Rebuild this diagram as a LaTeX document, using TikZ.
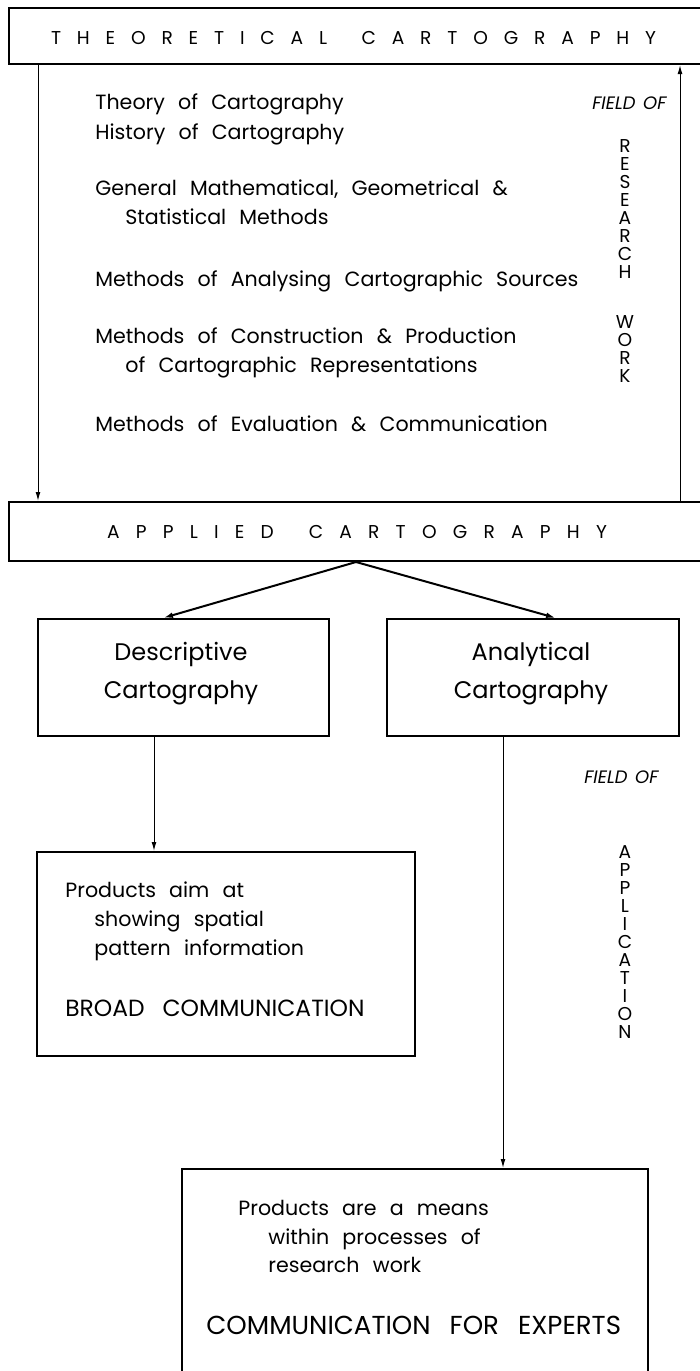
\documentclass[tikz,border=0pt]{standalone}
\usepackage{fontspec}
\usetikzlibrary{arrows.meta}
\setmainfont{Poppins}
\newfontfamily\slfont{Poppins}[FakeSlant=0.18]
% letter-spaced heading of a fixed width
\newcommand\spread[2]{\makebox[#1][s]{#2}}
% font set-ups with wide word spaces
\newcommand\bodyfont{\fontsize{10.3}{12}\selectfont\spaceskip=6.6pt\relax}
\newcommand\broadfont{\fontsize{11.7}{13}\selectfont\spaceskip=9pt\relax}
\newcommand\expertfont{\fontsize{13}{15}\selectfont\spaceskip=9.5pt\relax}
\newcommand\fieldfont{\slfont\fontsize{9}{10}\selectfont\spaceskip=3.8pt\relax}
\begin{document}
\begin{tikzpicture}[x=0.5pt,y=-0.5pt,
  box/.style={draw,line width=1pt,inner sep=0,minimum width=#1},
  txt/.style={inner sep=0,anchor=base west,font=\bodyfont},
  big/.style={inner sep=0,anchor=base,font=\fontsize{12}{14}\selectfont},
  broadcaps/.style={inner sep=0,anchor=base west,font=\broadfont},
  expertcaps/.style={inner sep=0,anchor=base west,font=\expertfont},
  head/.style={inner sep=0,anchor=base,font=\fontsize{9.3}{11}\selectfont},
  vert/.style={inner sep=0,anchor=north,align=center,font=\fontsize{9.3}{9}\selectfont},
  field/.style={inner sep=0,anchor=base west,font=\fieldfont},
  conn/.style={line width=0.5pt,-{Latex[length=4.5pt,width=2.4pt]}},
  fork/.style={line width=1pt,-{Latex[length=5pt,width=2.8pt]}}]
\useasboundingbox (0,0) rectangle (700,1371);

% frames
\node[box=347pt,minimum height=28pt] (theo) at (356,36) {};
\node[box=347pt,minimum height=29.5pt] (appl) at (356,531.5) {};
\node[box=145.5pt,minimum height=58.5pt] (desc) at (183.5,677.5) {};
\node[box=146pt,minimum height=58.5pt] (anal) at (533,677.5) {};
\node[box=189pt,minimum height=102pt] (broad) at (226,954) {};
\node[box=233pt,minimum height=115.5pt] (expert) at (415,1284.5) {};

% headings
\node[head] (theoT) at (353.5,44.5) {\spread{302.5pt}{T H E O R E T I C A L\hspace{1em} C A R T O G R A P H Y}};
\node[head] (applT) at (357,538.5) {\spread{250pt}{A P P L I E D\hspace{1em} C A R T O G R A P H Y}};

% field of research work
\node[txt] (t1) at (95,109) {Theory of Cartography};
\node[txt] (t2) at (95,139) {History of Cartography};
\node[txt] (t3) at (95,195) {General Mathematical, Geometrical \&};
\node[txt] (t4) at (125,224) {Statistical Methods};
\node[txt] (t5) at (95,286) {Methods of Analysing Cartographic Sources};
\node[txt] (t6) at (95,343) {Methods of Construction \& Production};
\node[txt] (t7) at (125,372) {of Cartographic Representations};
\node[txt] (t8) at (95,431) {Methods of Evaluation \& Communication};
\node[field] (f1) at (591,109) {FIELD OF};
\node[vert] (research) at (625,139) {R\\E\\S\\E\\A\\R\\C\\H};
\node[vert] (work) at (625,315) {W\\O\\R\\K};

% branches
\node[big] (d1) at (181,660) {Descriptive};
\node[big] (d2) at (181,698) {Cartography};
\node[big] (a1) at (531,660) {Analytical};
\node[big] (a2) at (531,698) {Cartography};

\node[txt] (b1) at (65,897) {Products aim at};
\node[txt] (b2) at (94,926) {showing spatial};
\node[txt] (b3) at (94,955) {pattern information};
\node[broadcaps] (b4) at (65,1016) {BROAD COMMUNICATION};

\node[txt] (e1) at (238,1215) {Products are a means};
\node[txt] (e2) at (268,1244) {within processes of};
\node[txt] (e3) at (268,1272) {research work};
\node[expertcaps] (e4) at (206,1334) {COMMUNICATION FOR EXPERTS};

\node[field] (f2) at (583,783) {FIELD OF};
\node[vert] (application) at (625,845) {A\\P\\P\\L\\I\\C\\A\\T\\I\\O\\N};

% connectors
\coordinate (lx) at (38,0);
\coordinate (rx) at (680,0);
\coordinate (dtip) at (163,0);
\coordinate (atip) at (556,0);
\coordinate (dx) at (154,0);
\coordinate (ax) at (503,0);
\draw[conn] (theo.south -| lx) -- (appl.north -| lx);
\draw[conn] (appl.north -| rx) -- (theo.south -| rx);
\draw[fork] (appl.south) -- (desc.north -| dtip);
\draw[fork] (appl.south) -- (anal.north -| atip);
\draw[conn] (desc.south -| dx) -- (broad.north -| dx);
\draw[conn] (anal.south -| ax) -- (expert.north -| ax);
\end{tikzpicture}
\end{document}
